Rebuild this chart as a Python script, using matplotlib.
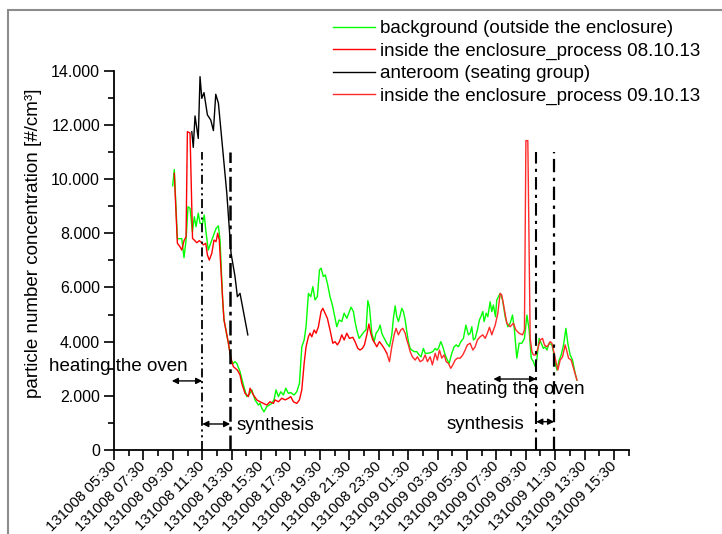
import matplotlib
matplotlib.use('Agg')
import matplotlib.pyplot as plt
from matplotlib.patches import Rectangle
from matplotlib.ticker import FixedLocator, FuncFormatter

plt.rcParams['font.family'] = ['Liberation Sans', 'DejaVu Sans']

# ---- data: (hours since 08.10.13 00:00, particles per cm^3) ----
background = [
    (9.49, 9750), (9.60, 10350), (9.81, 7800), (10.11, 7800), (10.26, 7100), (10.40, 7750),
    (10.53, 8980), (10.67, 8920), (10.83, 8050), (10.96, 8610), (11.08, 8240), (11.23, 8740),
    (11.35, 8370), (11.51, 8340), (11.64, 8670), (11.74, 8120), (11.91, 7380), (12.15, 7750),
    (12.44, 8180), (12.60, 8270), (12.71, 7750), (12.89, 5540), (12.98, 4800), (13.12, 4400),
    (13.28, 3940), (13.39, 3570), (13.51, 3260), (13.62, 3200), (13.73, 3260), (13.85, 3200),
    (14.07, 2890), (14.30, 2400), (14.53, 1970), (14.75, 2090), (14.87, 2220), (15.09, 1850),
    (15.32, 1660), (15.43, 1720), (15.55, 1540), (15.70, 1410), (15.89, 1600), (16.06, 1660),
    (16.23, 1720), (16.38, 1850), (16.52, 2220), (16.68, 1970), (16.84, 2150), (17.02, 2030),
    (17.18, 2280), (17.36, 2090), (17.52, 2120), (17.74, 2030), (17.93, 2150), (18.11, 2460),
    (18.27, 3810), (18.43, 4060), (18.56, 4550), (18.72, 5780), (18.88, 5660), (19.02, 6030),
    (19.17, 5540), (19.33, 5660), (19.47, 6640), (19.58, 6710), (19.74, 6400), (19.87, 6460),
    (20.01, 6150), (20.19, 5660), (20.35, 5350), (20.53, 4860), (20.65, 4550), (20.81, 4800),
    (20.99, 4740), (21.15, 5050), (21.33, 4860), (21.51, 5110), (21.62, 5270), (21.78, 5110),
    (21.89, 4740), (22.01, 4430), (22.17, 4120), (22.35, 4250), (22.51, 4370), (22.64, 4430),
    (22.76, 5510), (22.87, 5290), (23.03, 4310), (23.19, 4000), (23.32, 4310), (23.48, 4430),
    (23.60, 4610), (23.71, 4310), (23.82, 4180), (23.94, 4060), (24.05, 3940), (24.23, 3810),
    (24.39, 4250), (24.50, 4860), (24.62, 5320), (24.73, 4920), (24.84, 4740), (24.96, 4980),
    (25.07, 5230), (25.18, 5110), (25.30, 4800), (25.41, 4370), (25.52, 4000), (25.64, 3750),
    (25.75, 3690), (25.91, 3630), (26.09, 3630), (26.25, 3510), (26.38, 3440), (26.54, 3750),
    (26.66, 3570), (26.81, 3570), (27.00, 3590), (27.18, 3630), (27.34, 3750), (27.45, 3690),
    (27.56, 3750), (27.72, 4000), (27.86, 3810), (28.02, 3510), (28.17, 3320), (28.29, 3200),
    (28.47, 3570), (28.63, 3810), (28.77, 3880), (28.92, 3810), (29.09, 4000), (29.26, 4120),
    (29.43, 4610), (29.60, 4250), (29.72, 4310), (29.83, 4550), (29.94, 4060), (30.06, 4120),
    (30.21, 4430), (30.35, 4800), (30.45, 4920), (30.58, 5110), (30.67, 4740), (30.81, 5050),
    (30.92, 4920), (31.08, 5470), (31.19, 5110), (31.30, 5350), (31.44, 4920), (31.53, 5540),
    (31.76, 5780), (31.92, 5540), (32.10, 4920), (32.28, 4550), (32.44, 4680), (32.60, 4980),
    (32.73, 4430), (32.89, 3390), (33.05, 3940), (33.23, 3940), (33.41, 4120), (33.58, 4980),
    (33.73, 4430), (33.87, 3390), (34.02, 3260), (34.14, 3080), (34.25, 3320), (34.41, 4120),
    (34.55, 3940), (34.70, 3750), (34.82, 3810), (34.94, 3690), (35.09, 3940), (35.28, 3880),
    (35.38, 3630), (35.50, 3200), (35.62, 2950), (35.77, 3320), (35.91, 3510), (36.07, 3880),
    (36.23, 4490), (36.36, 3940), (36.52, 3510), (36.68, 3320), (36.86, 2830), (36.98, 2580),
]

inside = [
    (9.60, 10210), (9.81, 7630), (9.99, 7500), (10.11, 7380), (10.26, 7725), (10.40, 7870),
    (10.49, 11750), (10.67, 11700), (10.84, 7810), (10.96, 7750), (11.13, 7650), (11.30, 7725),
    (11.47, 7650), (11.57, 7570), (11.74, 7630), (11.85, 7200), (11.98, 7010), (12.15, 7260),
    (12.30, 7750), (12.44, 7690), (12.55, 8000), (12.66, 7750), (12.89, 5540), (12.98, 4800),
    (13.12, 4400), (13.28, 3940), (13.39, 3570), (13.51, 3260), (13.62, 3075), (13.89, 2950),
    (14.07, 2770), (14.19, 2460), (14.41, 2090), (14.53, 2030), (14.64, 1970), (14.75, 2280),
    (14.98, 2030), (15.21, 1850), (15.43, 1780), (15.66, 1720), (15.89, 1660), (16.11, 1780),
    (16.34, 1720), (16.45, 1850), (16.68, 1780), (16.91, 1910), (17.13, 1850), (17.36, 1910),
    (17.52, 1970), (17.70, 1780), (17.93, 1720), (18.11, 1850), (18.27, 2220), (18.43, 3200),
    (18.56, 3810), (18.72, 4180), (18.83, 4310), (18.95, 4180), (19.11, 4430), (19.24, 4310),
    (19.40, 4550), (19.58, 5110), (19.70, 5230), (19.85, 5050), (20.01, 4860), (20.19, 4430),
    (20.38, 3940), (20.53, 4000), (20.69, 3880), (20.83, 4000), (20.99, 4250), (21.15, 4060),
    (21.33, 4310), (21.51, 4120), (21.74, 4160), (21.89, 4000), (22.08, 3750), (22.23, 3690),
    (22.39, 3750), (22.53, 3880), (22.69, 4250), (22.83, 4650), (22.96, 4310), (23.10, 4060),
    (23.24, 3940), (23.37, 3810), (23.55, 4000), (23.71, 3880), (23.87, 3750), (24.05, 3570),
]

inside_day2 = [
    (24.05, 3570), (24.23, 3260), (24.39, 3810), (24.55, 4250), (24.68, 4490), (24.84, 4250),
    (25.00, 4430), (25.14, 4490), (25.30, 4310), (25.41, 4060), (25.52, 3880), (25.64, 3630),
    (25.79, 3440), (25.98, 3320), (26.13, 3440), (26.32, 3260), (26.50, 3320), (26.66, 3510),
    (26.81, 3260), (27.00, 3440), (27.15, 3140), (27.34, 3570), (27.49, 3320), (27.63, 3690),
    (27.79, 3390), (27.95, 3510), (28.09, 3260), (28.24, 3200), (28.40, 3015), (28.54, 3140),
    (28.70, 3320), (28.85, 3390), (29.04, 3390), (29.22, 3510), (29.38, 3690), (29.53, 3880),
    (29.72, 3940), (29.90, 3690), (30.06, 3810), (30.21, 4060), (30.40, 4180), (30.58, 4250),
    (30.74, 4120), (30.89, 4310), (31.03, 4530), (31.19, 4250), (31.30, 4430), (31.42, 4600),
    (31.60, 5050), (31.76, 5780), (31.87, 5720), (32.05, 5170), (32.21, 4680), (32.44, 4550),
    (32.66, 4680), (32.83, 4430), (33.05, 4310), (33.28, 4250), (33.41, 4430), (33.51, 11420),
    (33.64, 11420), (33.80, 4120), (33.92, 3630), (34.02, 3510), (34.19, 3510), (34.32, 3750),
    (34.48, 4060), (34.64, 4120), (34.77, 3880), (34.94, 3810), (35.04, 3880), (35.16, 4000),
    (35.28, 3940), (35.38, 3690), (35.50, 3390), (35.68, 2950), (35.84, 3320), (36.00, 3440),
    (36.18, 3880), (36.30, 3630), (36.41, 3390), (36.59, 3320), (36.75, 3015), (36.98, 2580),
]

anteroom = [
    (10.79, 11750), (10.89, 11170), (11.01, 12330), (11.23, 11500), (11.35, 13780),
    (11.47, 12980), (11.62, 13190), (11.85, 12370), (12.08, 12180), (12.26, 11790),
    (12.42, 13130), (12.60, 12800), (13.17, 9480), (13.46, 7260), (13.73, 6400),
    (13.89, 5660), (14.07, 5780), (14.60, 4250),
]

series_labels = ['background (outside the enclosure)',
                 'inside the enclosure_process 08.10.13',
                 'anteroom (seating group)',
                 'inside the enclosure_process 09.10.13']

# phase markers (hours since 08.10.13 00:00)
phase_lines = [11.50, 13.40, 34.21, 35.43]
phase_top = 11000
x_start, x_end = 5.5, 40.5
y_max = 14000

W, H = 722, 534
fig = plt.figure(figsize=(W / 100, H / 100), dpi=100)
ax = fig.add_axes([114 / W, 1 - 450 / H, (628.7 - 114) / W, (450 - 70.7) / H])

def unzip(p):
    return [a for a, b in p], [b for a, b in p]

t, v = unzip(background)
l1, = ax.plot(t, v, color='#00ff00', lw=1.0)
t, v = unzip(inside)
l2, = ax.plot(t, v, color='#ff0000', lw=1.0)
t, v = unzip(anteroom)
l3, = ax.plot(t, v, color='#000000', lw=1.0)
t, v = unzip(inside_day2)
l4, = ax.plot(t, v, color='#ff2a2a', lw=1.0)

# vertical phase lines
styles = [((0, (5, 2, 1.2, 2, 1.2, 2)), 1.3), ((0, (6, 2, 1.5, 2)), 1.8),
          ((0, (6, 2.5, 1.5, 2.5)), 1.5), ((0, (6, 2.5, 1.5, 2.5)), 1.6)]
for x, (ls, lw) in zip(phase_lines, styles):
    ax.plot([x, x], [0, phase_top], color='black', linestyle=ls, lw=lw)

def darrow(x0, x1, y):
    ax.annotate('', xy=(x1, y), xytext=(x0, y),
                arrowprops=dict(arrowstyle='<|-|>', color='black', lw=1.0,
                                mutation_scale=9, shrinkA=0, shrinkB=0))

darrow(9.43, phase_lines[0], 2550)
darrow(phase_lines[0], phase_lines[1], 960)
darrow(31.30, phase_lines[2], 2620)
darrow(phase_lines[2], phase_lines[3], 1045)

fs = 13.5
ax.text(10.53, 3075, 'heating the oven', ha='right', va='center', fontsize=fs, clip_on=False)
ax.text(13.85, 886, 'synthesis', ha='left', va='center', fontsize=fs)
ax.text(28.09, 2215, 'heating the oven', ha='left', va='center', fontsize=fs)
ax.text(28.09, 923, 'synthesis', ha='left', va='center', fontsize=fs)

ax.set_xlim(x_start, x_end)
ax.set_ylim(0, y_max)
for s in ['top', 'right']:
    ax.spines[s].set_visible(False)
for s in ['left', 'bottom']:
    ax.spines[s].set_linewidth(1.3)

major_x = [x_start + 2 * i for i in range(18)]
minor_x = [x_start + i for i in range(36)]
ax.xaxis.set_major_locator(FixedLocator(major_x))
ax.xaxis.set_minor_locator(FixedLocator(minor_x))

def xlabel(h):
    day = 8 + int(h // 24)
    hh = int(h % 24)
    mm = int(round((h - int(h)) * 60))
    return '1310%02d %02d:%02d' % (day, hh, mm)

ax.set_xticks(major_x)
ax.set_xticklabels([xlabel(h) for h in major_x], rotation=45, ha='right', va='center',
                   rotation_mode='anchor', fontsize=10.8)
ax.yaxis.set_major_locator(FixedLocator(list(range(0, 14001, 2000))))
ax.yaxis.set_minor_locator(FixedLocator(list(range(0, 14001, 1000))))
ax.yaxis.set_major_formatter(FuncFormatter(lambda y, p: '{:,}'.format(int(y)).replace(',', '.')))
ax.tick_params(which='major', direction='out', length=7, width=1.2, pad=3)
ax.tick_params(axis='y', which='major', labelsize=11.5)
ax.tick_params(which='minor', direction='out', length=4, width=1.2)

fig.text(34 / W, 1 - 243 / H, 'particle number concentration [#/cm³]', rotation=90,
         ha='center', va='center', fontsize=fs)

ax.legend([l1, l2, l3, l4], series_labels, loc='upper left',
          bbox_to_anchor=(333 / W, 1 - 20 / H), bbox_transform=fig.transFigure,
          frameon=False, fontsize=fs, handlelength=2.25, handletextpad=0.25,
          labelspacing=0.28, borderpad=0, borderaxespad=0)

fig.patches.append(Rectangle((8 / W, -0.1), 1.2, 1 - 10 / H + 0.1, transform=fig.transFigure,
                             fill=False, ec='#8c8c8c', lw=1.5))

fig.savefig('out.png', dpi=100)
